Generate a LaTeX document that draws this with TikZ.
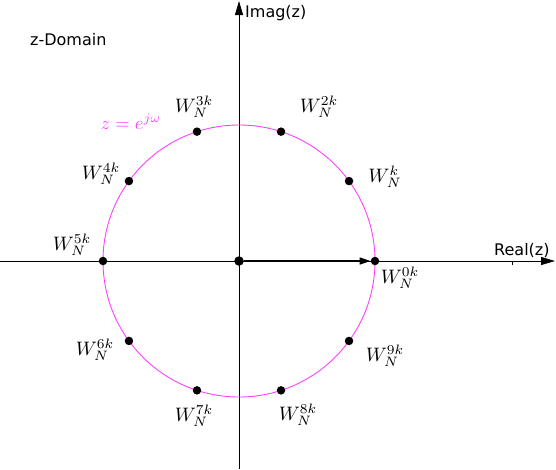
\documentclass[tikz,border=0pt]{standalone}
\usepackage{graphicx}
\usepackage{fontspec}
\newfontfamily\axisfont{DejaVu Sans}
\usetikzlibrary{arrows.meta}
\definecolor{mag}{RGB}{255,64,255}
\newcommand{\wl}[1]{\scalebox{1.95}{$#1$}}
\newcommand{\eqtxt}[1]{\scalebox{1.85}{$#1$}}
\tikzset{
  axisline/.style={line width=0.9pt, -{Triangle[length=14pt,width=8pt]}},
  unitcircle/.style={draw=mag, line width=0.9pt},
  dot/.style={circle, fill=black, inner sep=0pt, minimum size=8.5pt},
  cdot/.style={circle, fill=black, inner sep=0pt, minimum size=9.5pt},
  vec/.style={line width=1.6pt, -{Triangle[length=11pt,width=7pt]}},
  wlabel/.style={inner sep=0pt},
  eqlabel/.style={inner sep=0pt, text=mag},
  axlabel/.style={inner sep=0pt, font=\axisfont\fontsize{16}{19}\selectfont}
}
\begin{document}
\begin{tikzpicture}[x=1pt,y=-1pt]
\useasboundingbox (0,0) rectangle (556,469);
% axes
\coordinate (xl) at (0,261);
\coordinate (xr) at (555,261);
\coordinate (yb) at (239,469);
\coordinate (yt) at (239,1);
\draw[axisline] (xl) -- (xr);
\draw[axisline] (yb) -- (yt);
\coordinate (tk1) at (512,261);
\coordinate (tk2) at (512,265);
\draw[line width=0.8pt] (tk1) -- (tk2);
% unit circle
\draw[unitcircle] (239,261) circle[radius=136];
% points
\foreach \i in {0,...,9}
  \node[dot] (p\i) at ([shift={(239,261)}]{-36*\i}:136) {};
\node[cdot] (c) at (239,261) {};
\draw[vec] (c) -- (p0);
% labels
\node[axlabel, anchor=west] (imag) at (245,13) {Imag(z)};
\node[axlabel, anchor=west] (real) at (494,250) {Real(z)};
\node[axlabel, anchor=west] (dom) at (30,40) {z-Domain};
\node[eqlabel] (eq) at (131,122) {\eqtxt{z=e^{j\omega}}};
\node[wlabel] (l0) at (400,278) {\wl{W_N^{0k}}};
\node[wlabel] (l1) at (385,177) {\wl{W_N^{k}}};
\node[wlabel] (l2) at (319,107) {\wl{W_N^{2k}}};
\node[wlabel] (l3) at (194,107) {\wl{W_N^{3k}}};
\node[wlabel] (l4) at (101,174) {\wl{W_N^{4k}}};
\node[wlabel] (l5) at (72,245) {\wl{W_N^{5k}}};
\node[wlabel] (l6) at (95,350) {\wl{W_N^{6k}}};
\node[wlabel] (l7) at (194,416) {\wl{W_N^{7k}}};
\node[wlabel] (l8) at (298,415) {\wl{W_N^{8k}}};
\node[wlabel] (l9) at (385,356) {\wl{W_N^{9k}}};
\end{tikzpicture}
\end{document}
